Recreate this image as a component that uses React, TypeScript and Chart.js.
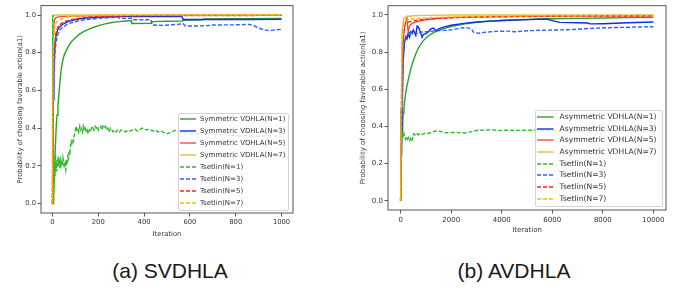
import React, { useEffect, useRef } from "react";
import { Chart, registerables } from "chart.js";

Chart.register(...registerables);

type Pt = [number, number];

// ---------- labels / ticks ----------
const symLabels = [
  "Symmetric VDHLA(N=1)",
  "Symmetric VDHLA(N=3)",
  "Symmetric VDHLA(N=5)",
  "Symmetric VDHLA(N=7)",
  "Tsetlin(N=1)",
  "Tsetlin(N=3)",
  "Tsetlin(N=5)",
  "Tsetlin(N=7)",
];
const asymLabels = [
  "Asymmetric VDHLA(N=1)",
  "Asymmetric VDHLA(N=3)",
  "Asymmetric VDHLA(N=5)",
  "Asymmetric VDHLA(N=7)",
  "Tsetlin(N=1)",
  "Tsetlin(N=3)",
  "Tsetlin(N=5)",
  "Tsetlin(N=7)",
];
const yTicks = [0, 0.2, 0.4, 0.6, 0.8, 1.0];
const xTicksSym = [0, 200, 400, 600, 800, 1000];
const xTicksAsym = [0, 2000, 4000, 6000, 8000, 10000];
const yTitle = "Probability of choosing favorable action(a1)";
const xTitle = "Iteration";

// ---------- (a) symmetric, iterations 0..1000 ----------
const svN1: Pt[] = [[0,0],[5,0],[8,0.15],[11,0.25],[14,0.34],[17,0.42],[20,0.47],[24,0.52],[28,0.58],[33,0.65],[38,0.71],[45,0.76],[52,0.79],[60,0.81],[70,0.835],[80,0.855],[92,0.87],[105,0.885],[120,0.9],[140,0.915],[160,0.925],[180,0.935],[205,0.945],[230,0.953],[260,0.96],[290,0.965],[320,0.968],[344,0.97],[346,0.955],[430,0.956],[436,0.965],[500,0.967],[568,0.968],[572,0.972],[655,0.974],[660,0.979],[800,0.98],[1000,0.982]];
const svN3: Pt[] = [[0,0],[2,0.3],[4,0.55],[6,0.7],[9,0.8],[12,0.86],[17,0.9],[24,0.925],[35,0.942],[50,0.955],[70,0.966],[100,0.976],[140,0.983],[200,0.988],[300,0.992],[565,0.992],[570,0.976],[700,0.976],[850,0.976],[1000,0.977]];
const svN5: Pt[] = [[0,0],[2,0.7],[4,0.9],[6,0.95],[9,0.975],[14,0.985],[25,0.99],[50,0.993],[100,0.995],[200,0.997],[400,0.998],[700,0.999],[1000,0.999]];
const svN7: Pt[] = [[0,0],[1,0.9],[3,0.99],[6,1.0],[1000,1.0]];
const stN1: Pt[] = [[0,0],[1,1],[3,0.5],[5,0.24],[7,0.16],[9,0.2],[11,0.17],[13,0.26],[15,0.19],[17,0.23],[19,0.17],[21,0.22],[23,0.2],[25,0.25],[27,0.2],[29,0.24],[31,0.19],[34,0.23],[37,0.2],[40,0.22],[43,0.2],[46,0.24],[49,0.21],[52,0.19],[55,0.21],[58,0.18],[61,0.22],[64,0.21],[67,0.25],[70,0.24],[73,0.28],[76,0.27],[79,0.31],[82,0.33],[85,0.32],[88,0.34],[91,0.33],[95,0.36],[99,0.38],[103,0.41],[107,0.39],[111,0.4],[115,0.38],[119,0.41],[123,0.39],[127,0.4],[131,0.38],[135,0.41],[139,0.39],[143,0.4],[147,0.38],[151,0.39],[156,0.37],[161,0.39],[166,0.38],[171,0.4],[176,0.41],[181,0.39],[186,0.41],[191,0.4],[196,0.41],[201,0.39],[206,0.4],[211,0.41],[216,0.39],[221,0.41],[226,0.4],[231,0.41],[236,0.39],[241,0.4],[247,0.38],[253,0.4],[259,0.39],[265,0.38],[271,0.39],[278,0.38],[285,0.39],[292,0.38],[300,0.39],[310,0.385],[320,0.38],[330,0.39],[340,0.385],[350,0.39],[360,0.395],[370,0.385],[380,0.39],[390,0.4],[400,0.395],[410,0.39],[420,0.395],[430,0.39],[440,0.385],[450,0.39],[460,0.38],[470,0.385],[480,0.38],[490,0.375],[500,0.37],[510,0.375],[520,0.38],[530,0.385],[540,0.39],[550,0.385],[560,0.38],[580,0.375],[600,0.37],[650,0.372],[700,0.368],[750,0.365],[800,0.36],[850,0.36],[900,0.357],[950,0.36],[1000,0.356]];
const stN3: Pt[] = [[0,0],[2,0.3],[5,0.58],[9,0.76],[13,0.83],[18,0.87],[24,0.9],[31,0.92],[45,0.935],[60,0.948],[80,0.958],[110,0.968],[150,0.976],[200,0.982],[250,0.986],[290,0.988],[293,0.982],[345,0.982],[348,0.975],[430,0.975],[435,0.947],[480,0.945],[520,0.948],[560,0.952],[570,0.955],[580,0.942],[640,0.942],[680,0.944],[700,0.947],[800,0.948],[860,0.95],[875,0.945],[900,0.932],[925,0.92],[950,0.918],[975,0.921],[1000,0.924]];
const stN5: Pt[] = [[0,0],[2,0.4],[4,0.62],[7,0.77],[10,0.84],[15,0.9],[23,0.935],[35,0.952],[50,0.963],[70,0.972],[100,0.98],[130,0.986],[165,0.99],[220,0.993],[300,0.995],[450,0.997],[1000,0.998]];
const stN7: Pt[] = [[0,0],[2,0.6],[4,0.82],[7,0.9],[11,0.94],[16,0.96],[23,0.97],[35,0.978],[50,0.985],[75,0.991],[110,0.995],[160,0.998],[250,0.999],[1000,1.0]];

// ---------- (b) asymmetric, iterations 0..10000 ----------
const avN1: Pt[] = [[0,0],[20,0.25],[40,0.42],[60,0.36],[80,0.4],[100,0.47],[130,0.5],[160,0.54],[200,0.58],[250,0.62],[300,0.65],[400,0.71],[500,0.755],[600,0.79],[700,0.822],[800,0.843],[900,0.862],[1000,0.876],[1200,0.897],[1400,0.912],[1700,0.927],[2000,0.938],[2500,0.951],[3000,0.96],[3500,0.966],[4000,0.97],[4500,0.973],[5000,0.976],[5500,0.978],[6000,0.98],[7000,0.982],[8000,0.984],[9000,0.986],[10000,0.987]];
const avN3: Pt[] = [[0,0],[50,0.4],[100,0.75],[150,0.85],[200,0.88],[250,0.87],[300,0.9],[350,0.88],[400,0.91],[450,0.9],[500,0.92],[550,0.905],[600,0.89],[650,0.94],[700,0.935],[750,0.92],[800,0.9],[850,0.88],[900,0.895],[1000,0.9],[1100,0.91],[1200,0.925],[1300,0.93],[1400,0.915],[1500,0.925],[1700,0.935],[2000,0.945],[2500,0.955],[3000,0.962],[3500,0.967],[4000,0.97],[4500,0.973],[5000,0.975],[5500,0.977],[5800,0.977],[6000,0.97],[6300,0.96],[7000,0.958],[7400,0.957],[7500,0.952],[8000,0.953],[9000,0.958],[10000,0.962]];
const avN5: Pt[] = [[0,0],[50,0.6],[100,0.85],[150,0.93],[200,0.97],[250,0.985],[280,0.93],[300,0.91],[350,0.94],[400,0.95],[500,0.958],[700,0.966],[1000,0.974],[1500,0.982],[2000,0.986],[3000,0.99],[4000,0.992],[6000,0.994],[8000,0.995],[10000,0.996]];
const avN7: Pt[] = [[0,0],[20,0.5],[50,0.9],[100,0.97],[150,0.985],[250,0.992],[500,0.996],[1000,0.998],[2000,1.0],[10000,1.0]];
const atN1: Pt[] = [[0,0],[10,0.45],[20,0.5],[30,0.42],[40,0.38],[60,0.35],[80,0.37],[100,0.34],[130,0.36],[160,0.34],[200,0.33],[240,0.345],[280,0.33],[320,0.34],[360,0.325],[400,0.335],[440,0.32],[480,0.34],[520,0.36],[560,0.355],[600,0.35],[650,0.36],[700,0.355],[750,0.36],[800,0.355],[900,0.36],[1000,0.365],[1100,0.362],[1200,0.368],[1300,0.372],[1400,0.375],[1500,0.376],[1600,0.372],[1700,0.368],[1800,0.366],[2000,0.367],[2200,0.368],[2400,0.366],[2600,0.365],[2800,0.372],[3000,0.378],[3300,0.38],[3600,0.382],[3900,0.378],[4200,0.38],[4500,0.378],[5000,0.38],[6000,0.378],[7000,0.376],[8000,0.378],[9000,0.377],[10000,0.376]];
const atN3: Pt[] = [[0,0],[30,0.4],[60,0.65],[100,0.8],[150,0.86],[200,0.88],[250,0.9],[300,0.895],[350,0.915],[400,0.9],[500,0.91],[600,0.905],[700,0.9],[800,0.91],[900,0.905],[1000,0.91],[1200,0.912],[1400,0.915],[1600,0.917],[1800,0.918],[2000,0.92],[2200,0.925],[2400,0.93],[2600,0.932],[2800,0.925],[2900,0.905],[3100,0.902],[3400,0.908],[3800,0.912],[4200,0.913],[4500,0.91],[5000,0.915],[5500,0.918],[6000,0.919],[6500,0.92],[7000,0.923],[7500,0.928],[8000,0.931],[9000,0.934],[10000,0.937]];
const atN5: Pt[] = [[0,0],[30,0.5],[60,0.8],[100,0.9],[150,0.94],[200,0.955],[300,0.962],[500,0.968],[800,0.975],[1200,0.98],[2000,0.985],[3000,0.989],[5000,0.992],[7000,0.994],[10000,0.995]];
const atN7: Pt[] = [[0,0],[30,0.6],[60,0.85],[100,0.93],[150,0.96],[200,0.97],[400,0.978],[800,0.983],[1500,0.988],[3000,0.993],[6000,0.996],[10000,0.997]];

// ---------- styles ----------
const SOLID = ["#2ca02c", "#0d2cf2", "#f24a4a", "#e3c04d"];
const DASHED = ["#2db82d", "#2f5fff", "#ff1f1f", "#ffbb00"];
const FRAME = "#555555";
const TEXT = "#333333";
const FONT = "'DejaVu Sans', sans-serif";

const framePlugin = {
  id: "frameBox",
  afterDatasetsDraw(chart: any) {
    const { ctx, chartArea: a } = chart;
    ctx.save();
    ctx.strokeStyle = FRAME;
    ctx.lineWidth = 1;
    ctx.strokeRect(a.left, a.top, a.right - a.left, a.bottom - a.top);
    ctx.restore();
  },
};

interface LegendGeom {
  left: number; top: number; width: number; height: number;
  row0: number; rowGap: number; sampleX: number; sampleW: number; textX: number; fontSize: number;
}

interface PanelProps {
  left: number;
  width: number;
  height: number;
  series: Pt[][];
  labels: string[];
  xTicks: number[];
  xMin: number;
  xMax: number;
  yAxisW: number;
  xAxisH: number;
  padTop: number;
  padRight: number;
  xTitlePad: number;
  tickSize: number;
  titleSize: number;
  legend: LegendGeom;
}

function Panel(p: PanelProps) {
  const ref = useRef<HTMLCanvasElement | null>(null);
  useEffect(() => {
    if (!ref.current) return;
    const datasets = p.series.map((pts, i) => ({
      label: p.labels[i],
      data: pts.map(([x, y]) => ({ x, y })),
      borderColor: i < 4 ? SOLID[i] : DASHED[i - 4],
      backgroundColor: i < 4 ? SOLID[i] : DASHED[i - 4],
      borderWidth: 1.4,
      borderDash: i < 4 ? [] : [4, 2],
      pointRadius: 0,
      fill: false,
      tension: 0,
      order: p.series.length - i,
    }));
    const tickFont = { family: FONT, size: p.tickSize };
    const titleFont = { family: FONT, size: p.titleSize };
    const chart = new Chart(ref.current, {
      type: "line",
      data: { datasets },
      options: {
        animation: false,
        responsive: false,
        devicePixelRatio: 1,
        events: [],
        layout: { padding: { left: 0, top: p.padTop, right: p.padRight, bottom: 0 } },
        plugins: { legend: { display: false }, tooltip: { enabled: false } },
        scales: {
          x: {
            type: "linear",
            min: p.xMin,
            max: p.xMax,
            afterBuildTicks: (s: any) => {
              s.ticks = p.xTicks.map((v) => ({ value: v }));
            },
            afterFit: (s: any) => {
              s.height = p.xAxisH;
            },
            grid: { drawOnChartArea: false, drawTicks: true, tickLength: 3.5, color: FRAME, lineWidth: 1 },
            border: { display: false },
            ticks: {
              font: tickFont,
              color: TEXT,
              padding: 2,
              maxRotation: 0,
              autoSkip: false,
              callback: (v: any) => String(v),
            },
            title: {
              display: true,
              text: xTitle,
              font: titleFont,
              color: TEXT,
              padding: { top: 0, bottom: p.xTitlePad },
            },
          },
          y: {
            type: "linear",
            min: -0.05,
            max: 1.05,
            afterBuildTicks: (s: any) => {
              s.ticks = yTicks.map((v) => ({ value: v }));
            },
            afterFit: (s: any) => {
              s.width = p.yAxisW;
            },
            grid: { drawOnChartArea: false, drawTicks: true, tickLength: 3.5, color: FRAME, lineWidth: 1 },
            border: { display: false },
            ticks: {
              font: tickFont,
              color: TEXT,
              padding: 1.5,
              autoSkip: false,
              callback: (v: any) => Number(v).toFixed(1),
            },
            title: {
              display: true,
              text: yTitle,
              font: titleFont,
              color: TEXT,
              padding: { top: 16, bottom: 0 },
            },
          },
        },
      } as any,
      plugins: [framePlugin],
    });
    return () => chart.destroy();
  }, []);

  const L = p.legend;
  return (
    <>
      <canvas
        ref={ref}
        width={p.width}
        height={p.height}
        style={{ position: "absolute", left: p.left, top: 0, width: p.width, height: p.height }}
      />
      <div
        style={{
          position: "absolute",
          left: L.left,
          top: L.top,
          width: L.width,
          height: L.height,
          boxSizing: "border-box",
          border: "1px solid #d4d4d4",
          borderRadius: 2,
          background: "rgba(255,255,255,0.8)",
        }}
      />
      {p.labels.map((lab, i) => {
        const cy = L.row0 + i * L.rowGap;
        const color = i < 4 ? SOLID[i] : DASHED[i - 4];
        return (
          <React.Fragment key={lab + i}>
            <svg
              width={L.sampleW}
              height={4}
              style={{ position: "absolute", left: L.sampleX, top: cy - 2 }}
            >
              <line
                x1={0}
                y1={2}
                x2={L.sampleW}
                y2={2}
                stroke={color}
                strokeWidth={1.4}
                strokeDasharray={i < 4 ? undefined : "4 2"}
              />
            </svg>
            <div
              style={{
                position: "absolute",
                left: L.textX,
                top: cy - 6,
                height: 12,
                lineHeight: "12px",
                fontFamily: FONT,
                fontSize: L.fontSize,
                color: TEXT,
                whiteSpace: "nowrap",
              }}
            >
              {lab}
            </div>
          </React.Fragment>
        );
      })}
    </>
  );
}

const captionStyle: React.CSSProperties = {
  position: "absolute",
  top: 258,
  width: 200,
  textAlign: "center",
  fontFamily: "'Liberation Sans', Arial, sans-serif",
  fontSize: 21,
  lineHeight: "26px",
  color: "#1a1a1a",
};

export default function App() {
  return (
    <div
      style={{
        position: "fixed",
        left: 0,
        top: 0,
        width: 686,
        height: 293,
        background: "#ffffff",
        overflow: "hidden",
      }}
    >
      <Panel
        left={0}
        width={343}
        height={245}
        series={[svN1, svN3, svN5, svN7, stN1, stN3, stN5, stN7]}
        labels={symLabels}
        xTicks={xTicksSym}
        xMin={-50}
        xMax={1050}
        yAxisW={41}
        xAxisH={32}
        padTop={5}
        padRight={50}
        xTitlePad={6.9}
        tickSize={6.8}
        titleSize={6.8}
        legend={{ left: 178, top: 112.5, width: 110.5, height: 98, row0: 118.5, rowGap: 12, sampleX: 180, sampleW: 16, textX: 200, fontSize: 7 }}
      />
      <Panel
        left={343}
        width={343}
        height={245}
        series={[avN1, avN3, avN5, avN7, atN1, atN3, atN5, atN7]}
        labels={asymLabels}
        xTicks={xTicksAsym}
        xMin={-500}
        xMax={10500}
        yAxisW={45}
        xAxisH={35}
        padTop={5}
        padRight={20}
        xTitlePad={10.9}
        tickSize={7}
        titleSize={7}
        legend={{ left: 534.5, top: 110, width: 128, height: 96.5, row0: 116.8, rowGap: 11.7, sampleX: 537, sampleW: 16.5, textX: 559.5, fontSize: 7.6 }}
      />
      <div style={{ ...captionStyle, left: 170 - 100 }}>(a) SVDHLA</div>
      <div style={{ ...captionStyle, left: 514 - 100 }}>(b) AVDHLA</div>
    </div>
  );
}
